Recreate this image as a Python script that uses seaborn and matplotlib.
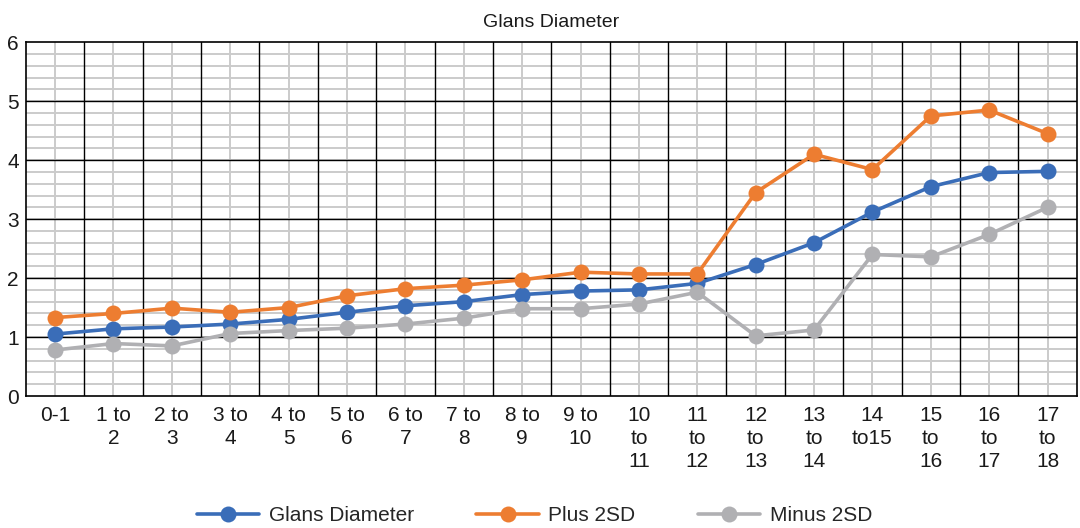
import numpy as np
import pandas as pd
import matplotlib
matplotlib.use("Agg")
import matplotlib.pyplot as plt
from matplotlib.ticker import FixedLocator
import seaborn as sns

# data
ages = ["0-1", "1 to\n2", "2 to\n3", "3 to\n4", "4 to\n5", "5 to\n6", "6 to\n7",
        "7 to\n8", "8 to\n9", "9 to\n10", "10\nto\n11", "11\nto\n12", "12\nto\n13",
        "13\nto\n14", "14\nto15", "15\nto\n16", "16\nto\n17", "17\nto\n18"]
glans = [1.05, 1.14, 1.17, 1.22, 1.30, 1.42, 1.53, 1.60, 1.72, 1.78,
         1.80, 1.91, 2.23, 2.60, 3.12, 3.55, 3.79, 3.81]
plus_2sd = [1.33, 1.40, 1.49, 1.42, 1.50, 1.70, 1.82, 1.88, 1.97, 2.10,
            2.07, 2.07, 3.45, 4.10, 3.84, 4.75, 4.85, 4.45]
minus_2sd = [0.78, 0.89, 0.85, 1.06, 1.11, 1.15, 1.22, 1.32, 1.48, 1.48,
             1.56, 1.76, 1.02, 1.12, 2.40, 2.36, 2.74, 3.20]
series_names = ["Glans Diameter", "Plus 2SD", "Minus 2SD"]
colors = ["#3A6DB8", "#ED7D31", "#B0B0B3"]

# long-form table for seaborn
pos = np.arange(len(ages))
df = pd.concat([
    pd.DataFrame({"pos": pos, "value": vals, "series": name})
    for name, vals in zip(series_names, [glans, plus_2sd, minus_2sd])
])

sns.set_style("white")
plt.rcParams["font.family"] = ["Liberation Sans", "DejaVu Sans"]

fig = plt.figure(figsize=(10.8, 5.28), dpi=100)
ax = fig.add_axes([0.024, 0.25, 0.973, 0.67])

sns.lineplot(data=df, x="pos", y="value", hue="series", palette=colors,
             marker="o", markersize=11.5, markeredgewidth=0, linewidth=2.6,
             ax=ax, zorder=5, legend=False)

ax.set_xlim(-0.5, len(ages) - 0.5)
ax.set_ylim(0, 6)

# grid: grey minor lines first, black major lines on top
for y in np.arange(0.2, 6, 0.2):
    ax.axhline(y, color="#CBCBCB", linewidth=1.4, zorder=1)
for x in pos:
    ax.axvline(x, color="#CBCBCB", linewidth=1.4, zorder=1)
for y in range(1, 6):
    ax.axhline(y, color="black", linewidth=1.0, zorder=2)
for x in np.arange(0.5, len(ages) - 1, 1.0):
    ax.axvline(x, color="black", linewidth=1.0, zorder=2)

ax.yaxis.set_major_locator(FixedLocator(range(0, 7)))
ax.xaxis.set_major_locator(FixedLocator(pos))
ax.set_xticklabels(ages)

ax.tick_params(which="both", length=0, labelsize=15, colors="#1a1a1a")
ax.tick_params(axis="x", pad=7)
ax.tick_params(axis="y", pad=5)
for lab in ax.get_xticklabels():
    lab.set_linespacing(1.28)
    lab.set_verticalalignment("top")

for sp in ax.spines.values():
    sp.set_color("black")
    sp.set_linewidth(1.2)
    sp.set_zorder(3)

ax.set_xlabel("")
ax.set_ylabel("")
ax.set_title("Glans Diameter", fontsize=14, pad=11, color="#1a1a1a")

handles = [plt.Line2D([], [], color=c, marker="o", markersize=11.5,
                      markeredgewidth=0, linewidth=2.6) for c in colors]
fig.legend(handles, series_names, loc="lower center", ncol=3, frameon=False,
           bbox_to_anchor=(0.495, -0.03), fontsize=15, handlelength=3.0,
           columnspacing=3.0, handletextpad=0.45)

fig.savefig("out.png", dpi=100)
